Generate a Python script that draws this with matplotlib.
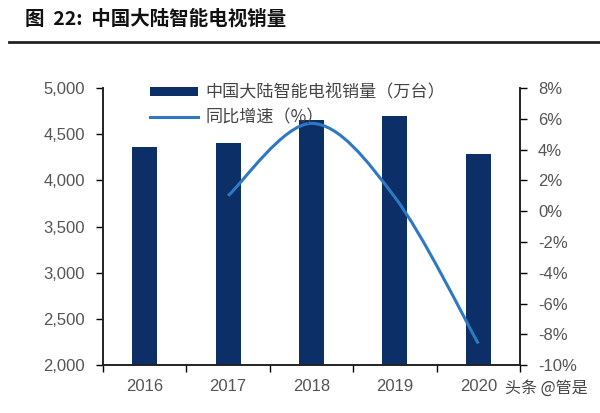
import numpy as np
import matplotlib
matplotlib.use('Agg')
import matplotlib.pyplot as plt
from matplotlib.path import Path
from matplotlib.patches import PathPatch, Patch
from matplotlib.lines import Line2D
from matplotlib.ticker import FuncFormatter, FixedLocator

plt.rcParams['font.family'] = ['Noto Sans CJK SC', 'DejaVu Sans']

years = ['2016', '2017', '2018', '2019', '2020']
sales = [4360, 4400, 4650, 4700, 4285]          # 万台
growth_years = ['2017', '2018', '2019', '2020']
growth = [1.0, 5.7, 0.9, -8.6]                  # %

bar_color = '#0B2F66'
line_color = '#2F78C4'
tick_color = '#555555'
num_font = ['Liberation Sans', 'DejaVu Sans']

fig = plt.figure(figsize=(6.0, 4.13), dpi=100)
ax = fig.add_axes([0.1717, 0.116, 0.695, 0.671])
ax2 = ax.twinx()

x = np.arange(len(years))
ax.bar(x, sales, width=0.3, color=bar_color, zorder=2)
ax.set_xlim(-0.5, len(years) - 0.5)
ax.set_ylim(2000, 5000)
ax.set_yticks(np.arange(2000, 5001, 500))
ax.yaxis.set_major_formatter(FuncFormatter(lambda v, p: f'{int(v):,}'))
ax.set_xticks(x)
ax.set_xticklabels(years)
ax.xaxis.set_minor_locator(FixedLocator(np.arange(-0.5, len(years), 1.0)))
ax.tick_params(axis='x', which='major', length=0, pad=10, labelsize=12, labelcolor=tick_color)
ax.tick_params(axis='x', which='minor', length=5, width=1, direction='out')
ax.tick_params(axis='y', length=5, width=1, direction='out', labelsize=12, labelcolor=tick_color, pad=8)

ax2.set_ylim(-10, 8)
ax2.set_yticks(np.arange(-10, 9, 2))
ax2.yaxis.set_major_formatter(FuncFormatter(lambda v, p: f'{int(v)}%'))
ax2.tick_params(axis='y', length=5, width=1, direction='out', labelsize=12, labelcolor=tick_color, pad=8)

for a in (ax, ax2):
    a.spines['top'].set_visible(False)
    for s in ('left', 'right', 'bottom'):
        a.spines[s].set_linewidth(1.2)
        a.spines[s].set_color('#222222')
    for lab in a.get_xticklabels() + a.get_yticklabels():
        lab.set_family(num_font)

# smoothed growth line (Catmull-Rom as cubic Bezier through the data points)
gx = [years.index(y) for y in growth_years]
pts = np.column_stack([gx, growth]).astype(float)
n = len(pts)
verts = [tuple(pts[0])]
codes = [Path.MOVETO]
for i in range(n - 1):
    p0 = pts[max(i - 1, 0)]
    p1 = pts[i]
    p2 = pts[i + 1]
    p3 = pts[min(i + 2, n - 1)]
    c1 = p1 + (p2 - p0) / 6.0
    c2 = p2 - (p3 - p1) / 6.0
    verts += [tuple(c1), tuple(c2), tuple(p2)]
    codes += [Path.CURVE4] * 3
ax2.add_patch(PathPatch(Path(verts, codes), facecolor='none', edgecolor=line_color,
                        linewidth=2.2, zorder=3))

handles = [Patch(facecolor=bar_color, edgecolor='none'),
           Line2D([0], [0], color=line_color, linewidth=2.2)]
labels = ['中国大陆智能电视销量（万台）', '同比增速（%）']
fig.legend(handles, labels, loc='upper left', bbox_to_anchor=(0.225, 0.835),
           frameon=False, fontsize=12.3, handlelength=2.8, handleheight=0.5,
           labelspacing=0.4, handletextpad=0.4, labelcolor='#444444')

fig.text(0.042, 0.955, '图  22:  中国大陆智能电视销量', fontsize=14, fontweight='bold',
         va='center', ha='left', color='#111111')
fig.add_artist(Line2D([0.015, 1.0], [0.898, 0.898], transform=fig.transFigure,
                      color='#222222', linewidth=2))
fig.text(0.842, 0.06, '头条 @管是', fontsize=11.5, color='#444444', va='center', ha='left')

fig.savefig('out.png', dpi=100)
